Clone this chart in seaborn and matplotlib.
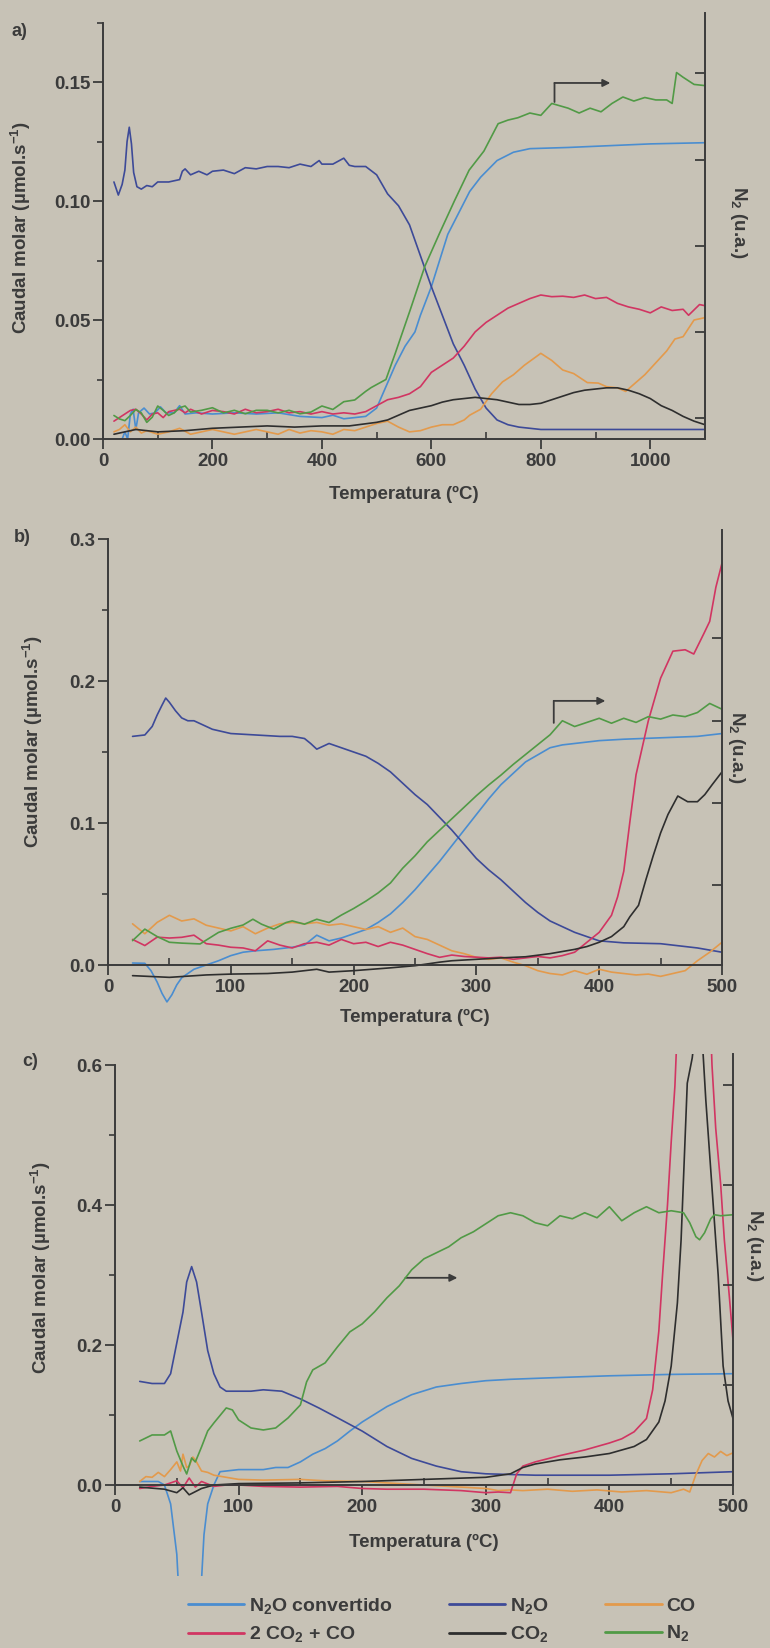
import matplotlib
matplotlib.use("Agg")
import matplotlib.pyplot as plt
import seaborn as sns
from matplotlib import font_manager as fm
from matplotlib.lines import Line2D
from matplotlib.ticker import MultipleLocator, FormatStrFormatter

# ---------------- data ----------------
# Panel a  (x: Temperatura ºC, y: caudal molar µmol/s ; N2 in u.a.)
A_N2OCONV_X = [20,35,40,45,50,55,60,65,75,85,95,105,115,130,140,150,170,200,240,280,320,360,400,420,440,460,480,500,517,534,552,570,580,600,615,630,650,670,690,720,750,780,850,900,1000,1100]
A_N2OCONV_Y = [0.0,0.0,0.003,0.0,0.0105,0.0125,0.004,0.011,0.013,0.0105,0.011,0.0135,0.011,0.011,0.014,0.0105,0.011,0.0105,0.011,0.0105,0.011,0.0095,0.009,0.010,0.0085,0.009,0.0095,0.013,0.022,0.031,0.039,0.045,0.052,0.064,0.075,0.086,0.095,0.104,0.110,0.117,0.1205,0.122,0.1225,0.123,0.124,0.1245]
A_N2O_X = [20,28,35,40,44,48,52,56,62,70,80,90,100,120,140,145,150,160,175,190,200,220,240,260,280,300,320,340,360,380,395,400,420,440,450,460,480,500,520,540,560,580,600,620,640,660,680,700,720,740,760,800,900,1000,1100]
A_N2O_Y = [0.108,0.1025,0.107,0.113,0.125,0.131,0.124,0.112,0.106,0.105,0.1065,0.106,0.108,0.108,0.109,0.1125,0.1135,0.111,0.1125,0.111,0.1125,0.113,0.1115,0.114,0.1135,0.1145,0.1145,0.114,0.1155,0.1145,0.117,0.1155,0.1155,0.118,0.115,0.1145,0.1145,0.111,0.103,0.098,0.090,0.077,0.064,0.052,0.040,0.031,0.021,0.013,0.008,0.006,0.005,0.004,0.004,0.004,0.004]
A_CO_X = [20,30,40,50,60,70,80,100,120,140,160,180,200,220,240,260,280,300,320,340,360,380,400,420,440,460,480,500,520,540,560,580,600,620,640,660,670,690,710,730,750,770,800,820,840,860,885,905,920,940,955,970,990,1010,1030,1045,1060,1080,1100]
A_CO_Y = [0.003,0.004,0.006,0.003,0.005,0.0025,0.0035,0.002,0.003,0.0045,0.002,0.003,0.004,0.003,0.002,0.003,0.004,0.003,0.002,0.004,0.0025,0.0035,0.003,0.002,0.004,0.0035,0.005,0.0065,0.0075,0.005,0.003,0.0035,0.005,0.006,0.006,0.008,0.010,0.0125,0.019,0.024,0.027,0.031,0.036,0.033,0.029,0.0275,0.0237,0.0235,0.022,0.0215,0.020,0.023,0.027,0.032,0.037,0.042,0.043,0.050,0.051]
A_RED_X = [20,30,40,50,60,70,80,90,100,110,120,140,150,160,180,200,220,240,260,280,300,320,340,360,380,400,420,440,460,480,500,520,540,560,580,600,620,640,660,680,700,720,740,760,780,800,820,840,860,880,900,920,940,960,980,1000,1020,1040,1060,1070,1090,1100]
A_RED_Y = [0.0075,0.009,0.0105,0.012,0.0125,0.0105,0.008,0.0105,0.011,0.009,0.0115,0.0125,0.011,0.0125,0.0105,0.012,0.0115,0.0105,0.0125,0.011,0.0115,0.0125,0.011,0.0115,0.0105,0.0115,0.0105,0.011,0.0105,0.0115,0.014,0.0165,0.0175,0.019,0.022,0.028,0.031,0.034,0.039,0.045,0.049,0.052,0.055,0.057,0.059,0.0605,0.0598,0.060,0.0595,0.0605,0.059,0.0595,0.057,0.0555,0.0545,0.053,0.0555,0.054,0.0545,0.052,0.0565,0.056]
A_CO2_X = [20,40,60,80,100,150,200,250,300,350,400,450,500,520,540,560,580,600,620,640,660,680,700,720,740,760,780,800,820,840,860,880,900,920,940,960,980,1000,1020,1040,1060,1080,1100]
A_CO2_Y = [0.002,0.003,0.004,0.0035,0.003,0.0035,0.0045,0.005,0.0055,0.005,0.0055,0.0055,0.007,0.008,0.010,0.012,0.013,0.014,0.0155,0.0165,0.017,0.0175,0.017,0.0165,0.0155,0.0145,0.0145,0.015,0.0165,0.018,0.0195,0.0205,0.021,0.0215,0.0215,0.0205,0.019,0.017,0.014,0.012,0.0095,0.0075,0.006]
A_N2_X = [20,30,40,50,60,70,80,90,100,110,120,130,140,150,160,180,200,220,240,260,280,300,320,340,360,380,400,420,440,460,480,490,517,534,561,588,615,642,669,696,722,740,758,780,800,820,850,870,890,910,930,950,970,990,1010,1030,1040,1048,1060,1080,1100]
A_N2_Y = [0.03,-0.01,-0.03,0.03,0.10,0.06,-0.05,0.01,0.14,0.09,0.03,0.06,0.12,0.14,0.07,0.09,0.12,0.06,0.09,0.05,0.09,0.09,0.06,0.09,0.05,0.07,0.14,0.10,0.19,0.21,0.31,0.354,0.448,0.751,1.249,1.760,2.146,2.519,2.878,3.099,3.417,3.459,3.486,3.541,3.514,3.652,3.597,3.541,3.597,3.555,3.652,3.727,3.680,3.721,3.693,3.693,3.652,4.011,3.956,3.873,3.859]

# Panel b
B_N2OCONV_X = [20,30,35,40,44,48,52,56,60,65,70,80,90,100,110,120,135,150,160,170,175,180,190,200,210,220,230,240,250,260,270,280,290,300,310,320,330,340,350,360,370,380,400,420,450,480,500]
B_N2OCONV_Y = [0.0014,0.0012,-0.004,-0.012,-0.020,-0.026,-0.021,-0.014,-0.009,-0.006,-0.003,0.0,0.003,0.0066,0.009,0.010,0.011,0.0125,0.014,0.021,0.019,0.017,0.019,0.022,0.025,0.030,0.036,0.044,0.053,0.063,0.073,0.084,0.095,0.106,0.117,0.127,0.135,0.143,0.148,0.153,0.155,0.156,0.158,0.159,0.160,0.161,0.163]
B_N2O_X = [20,30,36,40,44,47,50,55,60,65,70,75,85,100,120,140,150,160,165,170,175,180,190,200,210,220,230,240,250,260,270,280,290,300,310,320,330,340,350,360,370,380,390,400,420,450,480,500]
B_N2O_Y = [0.161,0.162,0.168,0.176,0.183,0.188,0.185,0.179,0.174,0.172,0.172,0.170,0.166,0.163,0.162,0.161,0.161,0.1595,0.156,0.152,0.154,0.156,0.153,0.150,0.147,0.142,0.136,0.128,0.120,0.113,0.104,0.095,0.085,0.075,0.067,0.060,0.052,0.044,0.037,0.031,0.027,0.023,0.020,0.017,0.0156,0.015,0.012,0.009]
B_CO_X = [20,30,40,50,60,70,80,90,100,110,120,130,140,150,160,170,180,190,200,210,220,230,240,250,260,270,280,290,300,310,320,330,340,350,360,370,380,390,400,410,420,430,440,450,460,470,480,490,500]
B_CO_Y = [0.029,0.022,0.030,0.035,0.031,0.0325,0.028,0.026,0.024,0.027,0.022,0.026,0.029,0.030,0.029,0.030,0.028,0.029,0.027,0.025,0.027,0.023,0.026,0.020,0.018,0.014,0.010,0.008,0.0054,0.004,0.005,0.002,-0.0005,-0.004,-0.006,-0.007,-0.004,-0.0065,-0.003,-0.005,-0.006,-0.007,-0.0064,-0.008,-0.006,-0.004,0.003,0.009,0.016]
B_RED_X = [20,30,40,50,60,70,80,90,100,110,120,130,140,150,160,170,180,190,200,210,220,230,240,250,260,270,280,290,300,310,320,330,340,350,360,370,380,390,400,410,415,420,425,430,440,450,460,470,477,485,490,495,500]
B_RED_Y = [0.018,0.0137,0.0196,0.019,0.0195,0.021,0.015,0.014,0.0125,0.012,0.010,0.017,0.014,0.012,0.015,0.016,0.014,0.018,0.015,0.016,0.013,0.016,0.014,0.011,0.008,0.0054,0.007,0.006,0.0055,0.005,0.0055,0.004,0.005,0.006,0.005,0.0066,0.009,0.016,0.023,0.035,0.048,0.066,0.101,0.134,0.172,0.202,0.221,0.222,0.219,0.233,0.242,0.266,0.283]
B_CO2_X = [20,50,80,100,130,150,170,180,200,230,250,270,280,300,320,340,360,370,380,390,400,410,420,425,432,438,444,450,456,464,472,480,486,492,500]
B_CO2_Y = [-0.0075,-0.0087,-0.007,-0.0064,-0.006,-0.005,-0.003,-0.005,-0.004,-0.002,-0.0005,0.002,0.003,0.004,0.005,0.0058,0.008,0.0095,0.011,0.013,0.016,0.020,0.027,0.034,0.042,0.060,0.077,0.093,0.106,0.119,0.115,0.115,0.120,0.127,0.136]
B_N2_X = [20,30,40,50,60,75,90,100,110,118,125,135,145,150,160,170,180,190,200,210,220,230,240,250,260,270,280,290,300,310,320,330,340,350,360,370,380,390,400,410,420,430,440,450,460,470,480,490,500]
B_N2_Y = [0.33,0.47,0.38,0.31,0.30,0.29,0.43,0.48,0.52,0.59,0.53,0.47,0.55,0.57,0.53,0.59,0.55,0.64,0.72,0.81,0.91,1.03,1.21,1.36,1.53,1.67,1.81,1.95,2.09,2.22,2.34,2.47,2.59,2.71,2.83,3.00,2.93,2.98,3.03,2.97,3.03,2.98,3.05,3.02,3.07,3.05,3.10,3.21,3.14]

# Panel c
C_N2OCONV_X = [20,35,40,45,50,53,68,72,75,80,85,100,120,130,140,150,160,170,180,190,200,210,220,240,260,280,300,320,350,400,450,500]
C_N2OCONV_Y = [0.005,0.005,0.0,-0.027,-0.099,-0.20,-0.20,-0.071,-0.027,0.0,0.019,0.022,0.022,0.025,0.025,0.033,0.044,0.052,0.063,0.077,0.090,0.101,0.112,0.129,0.140,0.145,0.149,0.151,0.153,0.156,0.158,0.159]
C_N2O_X = [20,30,40,45,50,55,58,62,66,70,75,80,85,90,100,110,120,135,150,165,180,200,220,240,260,280,300,320,340,400,450,500]
C_N2O_Y = [0.148,0.145,0.145,0.159,0.203,0.247,0.290,0.312,0.290,0.247,0.192,0.159,0.140,0.134,0.134,0.134,0.136,0.134,0.123,0.110,0.096,0.077,0.055,0.038,0.027,0.019,0.016,0.015,0.014,0.014,0.016,0.019]
C_CO_X = [20,25,30,35,40,45,50,53,55,58,60,63,65,70,75,80,90,100,120,150,170,200,230,250,280,300,310,320,330,350,370,390,410,430,450,460,465,470,475,480,485,490,495,500]
C_CO_Y = [0.005,0.012,0.011,0.018,0.012,0.022,0.033,0.02,0.044,0.025,0.027,0.04,0.036,0.02,0.018,0.014,0.011,0.008,0.007,0.008,0.006,0.005,0.002,0.0,-0.003,-0.005,-0.008,-0.007,-0.008,-0.006,-0.009,-0.007,-0.010,-0.008,-0.011,-0.006,-0.01,0.015,0.035,0.045,0.040,0.048,0.042,0.046]
C_RED_X = [20,30,40,50,55,60,65,70,80,90,100,120,150,180,200,220,250,280,300,310,320,325,330,340,360,380,400,410,420,430,435,440,443,447,450,453,456,481,483,486,490,493,497,500]
C_RED_Y = [-0.005,-0.002,0.0,0.006,-0.004,0.01,-0.003,0.005,-0.002,0.0,0.0,-0.002,-0.003,-0.002,-0.005,-0.006,-0.006,-0.008,-0.011,-0.01,-0.011,0.016,0.027,0.033,0.042,0.050,0.060,0.066,0.076,0.095,0.136,0.22,0.30,0.40,0.49,0.57,0.70,0.70,0.60,0.51,0.43,0.35,0.27,0.207]
C_CO2_X = [20,40,50,55,60,70,80,100,150,200,250,300,320,330,340,360,380,400,420,430,440,445,450,455,458,463,467,469,475,478,482,484,488,492,496,500]
C_CO2_Y = [-0.003,-0.006,-0.011,-0.004,-0.014,-0.005,0.0,0.002,0.003,0.005,0.008,0.011,0.016,0.025,0.030,0.036,0.040,0.045,0.055,0.065,0.090,0.12,0.17,0.26,0.35,0.574,0.61,0.64,0.64,0.55,0.45,0.40,0.30,0.17,0.12,0.095]
C_N2_X = [20,30,40,45,50,55,58,62,65,70,75,80,90,95,100,110,120,130,140,150,155,160,170,180,190,200,210,220,230,240,250,260,270,280,290,300,310,320,330,340,350,360,370,380,390,400,410,420,430,440,450,460,465,470,473,477,482,485,490,500]
C_N2_Y = [0.44,0.50,0.50,0.54,0.34,0.19,0.11,0.27,0.23,0.38,0.54,0.62,0.77,0.75,0.65,0.57,0.55,0.57,0.67,0.80,1.03,1.15,1.22,1.38,1.53,1.61,1.73,1.87,1.99,2.15,2.26,2.32,2.38,2.47,2.53,2.61,2.69,2.72,2.69,2.62,2.59,2.69,2.66,2.72,2.67,2.78,2.64,2.72,2.78,2.72,2.74,2.72,2.62,2.48,2.45,2.52,2.66,2.70,2.69,2.70]

SERIES_LABELS = [r"N$_2$O convertido", r"N$_2$O", "CO", r"2 CO$_2$ + CO", r"CO$_2$", r"N$_2$"]
PANEL_LETTERS = ["a)", "b)", "c)"]
X_LABEL = "Temperatura (ºC)"
Y_LABEL = r"Caudal molar (µmol.s$^{-1}$)"
Y2_LABEL = r"N$_2$ (u.a.)"
# arrow annotations (start of vertical stem, corner, head) in left-axis units
ARROW_A = [(825, 0.1416), (825, 0.1496), (927, 0.1496)]
ARROW_B = [(363, 0.1705), (363, 0.186), (405, 0.186)]
ARROW_C = [None, (235, 0.296), (277, 0.296)]

# ---------------- style ----------------
BG = "#c7c2b6"
INK = "#3b3b3b"
COLORS = {"conv": "#4a8dd0", "n2o": "#3d4a98", "co": "#e39a4c",
          "red": "#d13562", "co2": "#2e2e2e", "n2": "#519a46"}
LW = 1.2

sns.set_theme(style="ticks")
names = {f.name for f in fm.fontManager.ttflist}
FONT = "Liberation Sans Narrow" if "Liberation Sans Narrow" in names else "Liberation Sans"
plt.rcParams["font.family"] = [FONT, "DejaVu Sans"]
plt.rcParams["font.weight"] = "bold"
plt.rcParams["mathtext.fontset"] = "custom"
plt.rcParams["mathtext.rm"] = FONT
plt.rcParams["mathtext.bf"] = FONT + ":bold"
plt.rcParams["mathtext.default"] = "bf"
plt.rcParams["axes.facecolor"] = "none"

W, H = 770, 1648
fig = plt.figure(figsize=(W / 100, H / 100), dpi=100, facecolor=BG)

FS = 13.5


def px(x, y):
    return x / W, 1 - y / H


def make_panel(rect, xlim, xmaj, xmin, ylim, ytop_spine, ymaj, ymin, yfmt,
               y2lim, y2bound, y2ticks):
    ax = fig.add_axes(rect)
    ax.xaxis.set_major_locator(MultipleLocator(xmaj))
    ax.xaxis.set_minor_locator(MultipleLocator(xmin))
    ax.yaxis.set_major_formatter(FormatStrFormatter(yfmt))
    ax.set_yticks([k * ymaj for k in range(0, int(ytop_spine / ymaj + 1e-6) + 1)])
    ax.set_yticks([k * ymin for k in range(0, int(ytop_spine / ymin + 1e-6) + 1)], minor=True)
    ax.set_xlim(*xlim)
    ax.set_ylim(*ylim)
    for s in ["top", "right"]:
        ax.spines[s].set_visible(False)
    ax.spines["left"].set_bounds(0, ytop_spine)
    ax.spines["bottom"].set_position(("data", 0))
    for s in ["left", "bottom"]:
        ax.spines[s].set_color(INK)
        ax.spines[s].set_linewidth(1.4)
    ax.tick_params(axis="x", which="major", direction="out", length=7, width=1.3,
                   colors=INK, labelsize=FS, pad=3)
    ax.tick_params(axis="x", which="minor", direction="in", length=5, width=1.2, colors=INK)
    ax.tick_params(axis="y", which="major", direction="out", length=7, width=1.3,
                   colors=INK, labelsize=FS, pad=2)
    ax.tick_params(axis="y", which="minor", direction="out", length=4, width=1.2, colors=INK)
    for lab in ax.get_xticklabels() + ax.get_yticklabels():
        lab.set_fontweight("bold")
    ax.set_xlabel("")
    ax.set_ylabel("")

    ax2 = ax.twinx()
    ax2.set_yticks(y2ticks)
    ax2.set_ylim(*y2lim)
    for s in ["top", "left", "bottom"]:
        ax2.spines[s].set_visible(False)
    ax2.spines["right"].set_bounds(*y2bound)
    ax2.spines["right"].set_color(INK)
    ax2.spines["right"].set_linewidth(1.4)
    ax2.tick_params(axis="y", which="major", direction="in", length=7, width=1.3,
                    colors=INK, labelright=False)
    ax2.set_ylabel("")
    return ax, ax2


def draw(ax, x, y, color):
    sns.lineplot(x=x, y=y, ax=ax, color=color, linewidth=LW, estimator=None,
                 sort=False, legend=False)


def arrow(ax, pts):
    stem, corner, head = pts
    if stem is not None:
        ax.annotate("", xy=corner, xytext=stem,
                    arrowprops=dict(arrowstyle="-", color=INK, lw=1.3,
                                    shrinkA=0, shrinkB=0))
    ax.annotate("", xy=head, xytext=corner,
                arrowprops=dict(arrowstyle="-|>", color=INK, lw=1.3,
                                mutation_scale=11, shrinkA=0, shrinkB=0))


panels = []
# ---------------- panel a ----------------
A_LIM = (0, 0.179)
axA, axA2 = make_panel([103 / W, 1 - 439 / H, 602 / W, 426 / H], (0, 1100), 200, 100,
                       A_LIM, 0.175, 0.05, 0.025, "%.2f",
                       (-0.243, 4.702), (-0.243, 4.702), [0, 1, 2, 3, 4])
draw(axA, A_N2OCONV_X, A_N2OCONV_Y, COLORS["conv"])
draw(axA, A_N2O_X, A_N2O_Y, COLORS["n2o"])
draw(axA, A_CO_X, A_CO_Y, COLORS["co"])
draw(axA, A_RED_X, A_RED_Y, COLORS["red"])
draw(axA, A_CO2_X, A_CO2_Y, COLORS["co2"])
draw(axA2, A_N2_X, A_N2_Y, COLORS["n2"])
arrow(axA, ARROW_A)
panels.append((axA, A_LIM, axA2, (-0.243, 4.702), (0, 1100)))

# ---------------- panel b ----------------
b_top, b_zero, b_ppu = 0.3065, 965, 1420
B_LIM = (-0.03, b_top)
axB, axB2 = make_panel([108 / W, 1 - (b_zero + 0.03 * b_ppu) / H, 614 / W, (0.3365 * b_ppu) / H],
                       (0, 500), 100, 50, B_LIM, 0.3, 0.1, 0.05, "%.1f",
                       (-0.483, 5.319), (0.034, 5.319), [1, 2, 3, 4])
draw(axB, B_N2OCONV_X, B_N2OCONV_Y, COLORS["conv"])
draw(axB, B_N2O_X, B_N2O_Y, COLORS["n2o"])
draw(axB, B_CO_X, B_CO_Y, COLORS["co"])
draw(axB, B_RED_X, B_RED_Y, COLORS["red"])
draw(axB, B_CO2_X, B_CO2_Y, COLORS["co2"])
draw(axB2, B_N2_X, B_N2_Y, COLORS["n2"])
arrow(axB, ARROW_B)
panels.append((axB, B_LIM, axB2, (-0.483, 5.319), (0, 500)))

# ---------------- panel c ----------------
c_top, c_zero, c_ppu = 0.616, 1485, 700
C_LIM = (-0.13, c_top)
axC, axC2 = make_panel([115 / W, 1 - (c_zero + 0.13 * c_ppu) / H, 618 / W, (0.746 * c_ppu) / H],
                       (0, 500), 100, 50, C_LIM, 0.6, 0.2, 0.1, "%.1f",
                       (-0.909, 4.308), (0.0, 4.308), [1, 2, 3, 4])
draw(axC, C_N2OCONV_X, C_N2OCONV_Y, COLORS["conv"])
draw(axC, C_N2O_X, C_N2O_Y, COLORS["n2o"])
draw(axC, C_CO_X, C_CO_Y, COLORS["co"])
draw(axC, C_RED_X, C_RED_Y, COLORS["red"])
draw(axC, C_CO2_X, C_CO2_Y, COLORS["co2"])
draw(axC2, C_N2_X, C_N2_Y, COLORS["n2"])
arrow(axC, ARROW_C)
panels.append((axC, C_LIM, axC2, (-0.909, 4.308), (0, 500)))

# lock the limits after seaborn drawing
for ax, lim, ax2, lim2, xl in panels:
    ax.set_xlim(*xl)
    ax.set_ylim(*lim)
    ax2.set_ylim(*lim2)
    ax.set_xlabel("")
    ax.set_ylabel("")
    ax2.set_ylabel("")

# ---------------- texts ----------------
for letter, (x, y) in zip(PANEL_LETTERS, [(19, 32), (22, 538), (30, 1061)]):
    fig.text(*px(x, y), letter, ha="center", va="center", fontsize=13, color=INK,
             fontweight="bold")
for (x, y) in [(404, 494), (415, 1017), (424, 1542)]:
    fig.text(*px(x, y), X_LABEL, ha="center", va="center", fontsize=FS, color=INK,
             fontweight="bold")
for (x, y) in [(21, 228), (33, 742), (41, 1268)]:
    fig.text(*px(x, y), Y_LABEL, ha="center", va="center", rotation=90, fontsize=FS,
             color=INK, fontweight="bold")
for (x, y) in [(738, 222), (736, 747), (755, 1245)]:
    fig.text(*px(x, y), Y2_LABEL, ha="center", va="center", rotation=270, fontsize=FS,
             color=INK, fontweight="bold")

# ---------------- legend ----------------
keys = ["conv", "n2o", "co", "red", "co2", "n2"]
handles = [Line2D([], [], color=COLORS[k], lw=2.0) for k in keys]
order = [0, 3, 1, 4, 2, 5]
fig.legend([handles[i] for i in order], [SERIES_LABELS[i] for i in order], ncol=3,
           loc="center left", bbox_to_anchor=px(170, 1620), frameon=False, fontsize=14,
           handlelength=2.9, handletextpad=0.25, columnspacing=2.9, labelspacing=0.45,
           labelcolor=INK, borderpad=0.4)

fig.savefig("out.png", dpi=100, facecolor=BG)
